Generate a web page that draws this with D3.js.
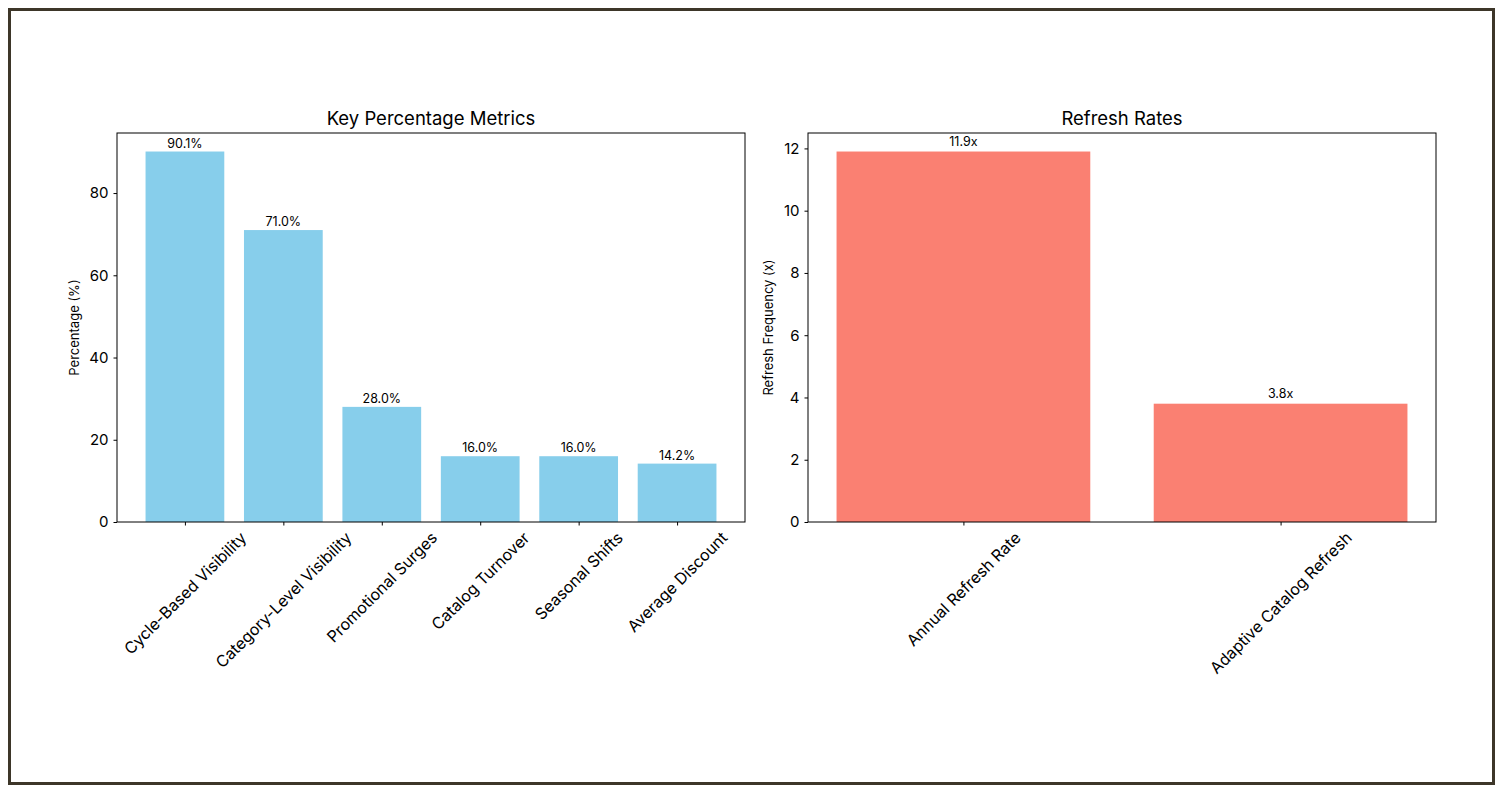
<!DOCTYPE html>
<html><head><meta charset="utf-8">
<script src="https://cdn.jsdelivr.net/npm/d3@7"></script>
<style>
html,body{margin:0;padding:0;background:#fff;}
svg text{font-family:Inter,"Open Sans",sans-serif;fill:#000;}
</style></head>
<body>
<svg id="c" width="1503" height="793"></svg>
<script>
const pctCategories = ["Cycle-Based Visibility","Category-Level Visibility","Promotional Surges","Catalog Turnover","Seasonal Shifts","Average Discount"];
const pctValues = [90.1, 71.0, 28.0, 16.0, 16.0, 14.2];
const pctTicks = [0, 20, 40, 60, 80];
const rateCategories = ["Annual Refresh Rate","Adaptive Catalog Refresh"];
const rateValues = [11.9, 3.8];
const rateTicks = [0, 2, 4, 6, 8, 10, 12];

const svg = d3.select("#c");
svg.append("rect").attr("x",9.5).attr("y",9.5).attr("width",1484).attr("height",774)
  .attr("fill","#fff").attr("stroke","#3d3629").attr("stroke-width",3);

function panel(o){
  const g = svg.append("g");
  const n = o.cats.length;
  const x = d3.scaleLinear().domain([-0.4-0.05*(n-0.2), n-1+0.4+0.05*(n-0.2)]).range([o.x0, o.x1]);
  const ymax = d3.max(o.vals)*1.05;
  const y = d3.scaleLinear().domain([0, ymax]).range([o.y1, o.y0]);
  g.selectAll("rect.bar").data(o.vals).enter().append("rect")
    .attr("x",(d,i)=>x(i-0.4)).attr("width",(d,i)=>x(i+0.4)-x(i-0.4))
    .attr("y",d=>y(d)).attr("height",d=>y(0)-y(d)).attr("fill",o.color);
  g.selectAll("text.vl").data(o.vals).enter().append("text")
    .attr("x",(d,i)=>x(i)).attr("y",d=>y(d)-o.lblGap).attr("text-anchor","middle")
    .attr("font-size",12.5).text(o.fmt);
  const ya = g.append("g").attr("transform",`translate(${o.x0},0)`)
    .call(d3.axisLeft(y).tickValues(o.ticks).tickSize(3.5).tickPadding(5).tickFormat(d3.format("d")));
  ya.select(".domain").remove();
  ya.selectAll("text").attr("font-size",15).style("font-family","Inter,sans-serif");
  ya.selectAll("line").attr("stroke","#000");
  const xa = g.append("g").attr("transform",`translate(0,${o.y1})`)
    .call(d3.axisBottom(x).tickValues(d3.range(n)).tickSize(3.5).tickFormat(""));
  xa.select(".domain").remove();
  xa.selectAll("line").attr("stroke","#000");
  o.cats.forEach((c,i)=>{
    const fs = 16;
    const t = g.append("text").attr("font-size",fs).attr("text-anchor","middle")
      .attr("dominant-baseline","central").text(c);
    const w = t.node().getComputedTextLength();
    const h = fs;
    const bh = (w+h)*Math.SQRT1_2;
    const cx = x(i), cy = o.y1 + 7 + bh/2;
    t.attr("transform",`translate(${cx},${cy}) rotate(-45)`);
  });
  g.append("rect").attr("x",o.x0).attr("y",o.y0).attr("width",o.x1-o.x0).attr("height",o.y1-o.y0)
    .attr("fill","none").attr("stroke","#000").attr("stroke-width",1);
  g.append("text").attr("x",(o.x0+o.x1)/2).attr("y",o.y0-8).attr("text-anchor","middle")
    .attr("font-size",18.5).text(o.title);
  g.append("text").attr("transform",`translate(${o.ylx},${(o.y0+o.y1)/2}) rotate(-90)`)
    .attr("text-anchor","middle").attr("font-size",13).text(o.ylabel);
}

panel({cats:pctCategories, vals:pctValues, ticks:pctTicks, color:"#87CEEB",
  x0:117, x1:745, y0:133, y1:522, title:"Key Percentage Metrics", ylabel:"Percentage (%)", ylx:79,
  lblGap:4, fmt:d=>d.toFixed(1)+"%"});
panel({cats:rateCategories, vals:rateValues, ticks:rateTicks, color:"#FA8072",
  x0:808, x1:1436, y0:133, y1:522, title:"Refresh Rates", ylabel:"Refresh Frequency (x)", ylx:773,
  lblGap:6, fmt:d=>d.toFixed(1)+"x"});
</script>
</body></html>
